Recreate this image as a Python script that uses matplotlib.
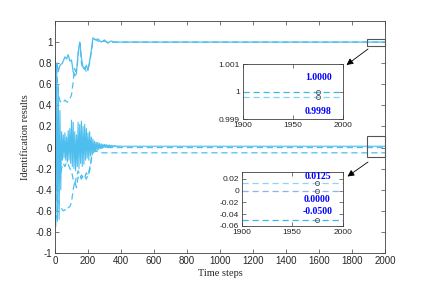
import matplotlib
matplotlib.use("Agg")
import matplotlib.pyplot as plt
from matplotlib.patches import Rectangle, FancyArrowPatch

# ---------------- data ----------------
t_a = [0, 5, 12, 20, 30, 45, 60, 70, 80, 90, 100, 110, 120, 130, 140, 150, 160, 170, 180,
       190, 200, 210, 220, 230, 245, 260, 280, 300, 320, 340, 360, 400, 2000]
v_a = [0.86, 0.70, 0.80, 0.72, 0.78, 0.80, 0.86, 0.84, 0.88, 0.82, 0.83, 0.72, 0.68, 0.70,
       0.90, 1.00, 0.85, 0.76, 0.74, 0.78, 0.73, 0.82, 0.92, 1.04, 1.02, 1.03, 1.00, 1.02,
       0.99, 1.01, 1.00, 1.00, 1.00]

t_b = [0, 8, 15, 22, 30, 45, 60, 75, 90, 100, 110, 118, 125, 135, 145, 152, 160, 170, 180,
       190, 200, 210, 220, 230, 240, 260, 280, 300, 330, 360, 400, 2000]
v_b = [0.70, 0.78, 0.62, 0.50, 0.44, 0.42, 0.45, 0.43, 0.46, 0.50, 0.62, 0.75, 0.72, 0.78,
       0.95, 0.99, 0.80, 0.74, 0.76, 0.72, 0.75, 0.80, 0.90, 1.02, 1.03, 1.01, 1.00, 1.01,
       0.99, 1.00, 0.9998, 0.9998]

t_c = list(range(0, 405, 5)) + [2000]
v_c = [0.85, -0.75, 0.80, -0.70, 0.60, -0.68, 0.35, -0.40, 0.15, -0.12,
       0.12, -0.10, 0.14, -0.12, 0.10, -0.14, 0.16, -0.12, 0.18, -0.15,
       0.26, -0.18, 0.24, -0.20, 0.15, -0.22, 0.12, -0.18, 0.24, -0.20,
       0.22, -0.15, 0.25, -0.18, 0.20, -0.16, 0.22, -0.12, 0.18, -0.10,
       0.14, -0.12, 0.15, -0.08, 0.10, -0.07, 0.08, -0.05, 0.06, -0.04,
       0.05, -0.03, 0.05, -0.02, 0.04, -0.01, 0.035, -0.005, 0.03, 0.0,
       0.03, 0.0, 0.028, 0.002, 0.025, 0.004, 0.024, 0.005, 0.022, 0.006,
       0.02, 0.008, 0.02, 0.009, 0.018, 0.01, 0.016, 0.011, 0.015, 0.012,
       0.0125, 0.0125]

t_d = [0, 10, 20, 30, 40, 50, 60, 70, 80, 90, 100, 110, 120, 130, 140, 150, 160, 170, 180,
       190, 200, 210, 220, 230, 240, 260, 280, 300, 350, 400, 2000]
v_d = [-0.70, -0.35, -0.25, -0.30, -0.20, -0.15, -0.18, -0.14, -0.16, -0.20, -0.22, -0.30,
       -0.34, -0.28, -0.22, -0.26, -0.30, -0.26, -0.28, -0.24, -0.27, -0.22, -0.12, -0.03,
       0.0, 0.01, -0.005, 0.0, 0.0, 0.0, 0.0]

t_e = [0, 10, 20, 30, 40, 50, 60, 70, 80, 90, 100, 110, 120, 130, 140, 150, 160, 170, 180,
       190, 200, 210, 220, 230, 240, 260, 280, 300, 340, 400, 2000]
v_e = [-0.70, -0.65, -0.50, -0.55, -0.58, -0.60, -0.59, -0.60, -0.57, -0.56, -0.52, -0.40,
       -0.32, -0.38, -0.28, -0.30, -0.26, -0.29, -0.27, -0.30, -0.25, -0.20, -0.10, -0.04,
       -0.03, -0.04, -0.05, -0.05, -0.05, -0.05, -0.05]

final_top = [1.0000, 0.9998]
final_bot = [0.0125, 0.0000, -0.0500]
final_top_labels = ["1.0000", "0.9998"]
final_bot_labels = ["0.0125", "0.0000", "-0.0500"]
marker_t = 1975

xticks_main = list(range(0, 2001, 200))
yticks_main = [-1, -0.8, -0.6, -0.4, -0.2, 0, 0.2, 0.4, 0.6, 0.8, 1]

# ---------------- styling ----------------
W, H = 427, 283
fig = plt.figure(figsize=(W / 100, H / 100), dpi=100)
fig.patch.set_facecolor("white")

axis_col = "#404040"
line_col = "#4DBEEE"
dash = (5, 3)


def px_rect(x0, y0, x1, y1):
    return [x0 / W, 1 - y1 / H, (x1 - x0) / W, (y1 - y0) / H]


def style_axes(ax, fs=7):
    for s in ax.spines.values():
        s.set_color(axis_col)
        s.set_linewidth(0.6)
    ax.tick_params(direction="in", top=True, right=True, length=3, width=0.5,
                   colors=axis_col, labelsize=fs, pad=2)
    for lab in ax.get_xticklabels() + ax.get_yticklabels():
        lab.set_fontfamily("Liberation Sans")
        lab.set_color("#262626")


ax = fig.add_axes(px_rect(55, 21, 385, 253))
ax.plot(t_c, v_c, color=line_col, lw=0.8)
ax.plot(t_b, v_b, color=line_col, lw=0.9, dashes=dash)
ax.plot(t_a, v_a, color=line_col, lw=0.9)
ax.plot(t_d, v_d, color=line_col, lw=0.9, dashes=dash)
ax.plot(t_e, v_e, color=line_col, lw=0.9, dashes=dash)
ax.set_xlim(0, 2000)
ax.set_ylim(-1, 1.2)
ax.set_xticks(xticks_main)
ax.set_yticks(yticks_main)
ax.set_yticklabels([f"{v:g}" for v in yticks_main])
style_axes(ax)
ax.set_xlabel("Time steps", family="Liberation Serif", fontsize=7.5, color="#262626", labelpad=2)
ax.set_ylabel("Identification results", family="Liberation Serif", fontsize=7.5,
              color="#262626", labelpad=4)

# zoom rectangles
ax.add_patch(Rectangle((1890, 0.962), 110, 0.066, fill=False, edgecolor="#555555", lw=0.8,
                       zorder=5, clip_on=False))
ax.add_patch(Rectangle((1890, -0.092), 110, 0.205, fill=False, edgecolor="#555555", lw=0.8,
                       zorder=5, clip_on=False))

# arrows
for (x0, y0, x1, y1) in [(368, 49, 346.5, 65), (368, 162, 347.5, 176.5)]:
    fig.add_artist(FancyArrowPatch(
        (x0 / W, 1 - y0 / H), (x1 / W, 1 - y1 / H), transform=fig.transFigure,
        arrowstyle="-|>,head_length=2.6,head_width=1.3", color="black", lw=0.6,
        mutation_scale=1.5, shrinkA=0, shrinkB=0))

# top inset
top_cols = ["#3CB6EC", "#86D3F1"]
ax1 = fig.add_axes(px_rect(242.7, 64.3, 343.3, 119.3))
for v, c in zip(final_top, top_cols):
    ax1.plot([1900, 2000], [v, v], color=c, lw=0.9, dashes=dash)
    ax1.plot([marker_t], [v], marker="o", ms=3, mfc="none", mec="#555555", mew=0.6)
ax1.set_xlim(1900, 2000)
ax1.set_ylim(0.999, 1.001)
ax1.set_xticks([1900, 1950, 2000])
ax1.set_yticks([0.999, 1.0, 1.001])
ax1.set_yticklabels(["0.999", "1", "1.001"])
style_axes(ax1, fs=6)
ax1.text(marker_t, 1.00052, final_top_labels[0], color="blue", fontweight="bold",
         family="Liberation Serif", fontsize=7, ha="center", va="center")
ax1.text(marker_t, 0.99930, final_top_labels[1], color="blue", fontweight="bold",
         family="Liberation Serif", fontsize=7, ha="center", va="center")

# bottom inset
bot_cols = ["#8FD6F4", "#8FB0F2", "#3CB6EE"]
ax2 = fig.add_axes(px_rect(241.7, 171.7, 342.7, 226))
for v, c in zip(final_bot, bot_cols):
    ax2.plot([1900, 2000], [v, v], color=c, lw=0.9, dashes=dash)
    ax2.plot([marker_t], [v], marker="o", ms=3, mfc="none", mec="#555555", mew=0.6)
ax2.set_xlim(1900, 2000)
ax2.set_ylim(-0.06, 0.032)
ax2.set_xticks([1900, 1950, 2000])
ax2.set_yticks([-0.06, -0.04, -0.02, 0, 0.02])
ax2.set_yticklabels(["-0.06", "-0.04", "-0.02", "0", "0.02"])
style_axes(ax2, fs=6)
for yy, lab in zip([0.0233, -0.0146, -0.0357], final_bot_labels):
    ax2.text(marker_t, yy, lab, color="blue", fontweight="bold",
             family="Liberation Serif", fontsize=7, ha="center", va="center")

fig.savefig("out.png", dpi=100)
